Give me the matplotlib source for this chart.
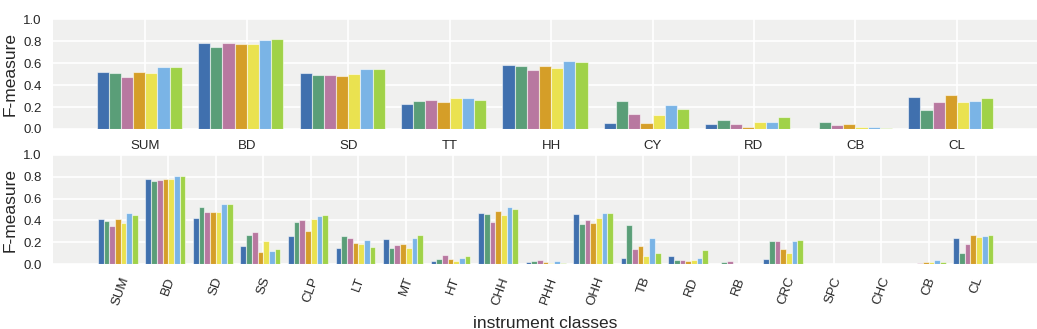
import matplotlib

matplotlib.use("Agg")

import matplotlib.pyplot as plt  # noqa: E402
import numpy as np  # noqa: E402

# ---------------------------------------------------------------------------
# Data
# ---------------------------------------------------------------------------

top_classes = ["SUM", "BD", "SD", "TT", "HH", "CY", "RD", "CB", "CL"]
bottom_classes = ["SUM", "BD", "SD", "SS", "CLP", "LT", "MT", "HT", "CHH", "PHH",
                  "OHH", "TB", "RD", "RB", "CRC", "SPC", "CHC", "CB", "CL"]

# one row per system, one value per class
top_scores = [
    [0.517, 0.787, 0.508, 0.231, 0.584, 0.055, 0.043, 0.003, 0.289],
    [0.510, 0.748, 0.492, 0.255, 0.571, 0.255, 0.082, 0.064, 0.176],
    [0.471, 0.784, 0.489, 0.264, 0.538, 0.137, 0.046, 0.036, 0.246],
    [0.520, 0.775, 0.486, 0.246, 0.578, 0.055, 0.018, 0.046, 0.313],
    [0.510, 0.775, 0.500, 0.286, 0.556, 0.125, 0.067, 0.018, 0.243],
    [0.562, 0.809, 0.547, 0.280, 0.620, 0.216, 0.067, 0.021, 0.255],
    [0.562, 0.818, 0.547, 0.261, 0.608, 0.179, 0.106, 0.010, 0.283],
]

bottom_scores = [
    [0.413, 0.781, 0.419, 0.164, 0.255, 0.152, 0.231, 0.030, 0.471, 0.018,
     0.462, 0.061, 0.073, 0.000, 0.049, 0.000, 0.000, 0.002, 0.240],
    [0.395, 0.760, 0.523, 0.267, 0.389, 0.256, 0.146, 0.052, 0.462, 0.027,
     0.368, 0.356, 0.043, 0.024, 0.216, 0.000, 0.000, 0.003, 0.106],
    [0.353, 0.769, 0.477, 0.295, 0.407, 0.237, 0.173, 0.085, 0.389, 0.043,
     0.401, 0.143, 0.043, 0.030, 0.216, 0.000, 0.003, 0.012, 0.182],
    [0.410, 0.781, 0.480, 0.112, 0.304, 0.195, 0.185, 0.052, 0.486, 0.021,
     0.374, 0.167, 0.033, 0.000, 0.143, 0.000, 0.000, 0.021, 0.270],
    [0.377, 0.781, 0.480, 0.216, 0.413, 0.188, 0.149, 0.030, 0.450, 0.009,
     0.422, 0.073, 0.040, 0.003, 0.103, 0.000, 0.003, 0.024, 0.249],
    [0.471, 0.808, 0.553, 0.122, 0.441, 0.222, 0.243, 0.058, 0.523, 0.030,
     0.471, 0.240, 0.058, 0.000, 0.210, 0.000, 0.000, 0.040, 0.258],
    [0.450, 0.808, 0.550, 0.140, 0.447, 0.155, 0.267, 0.073, 0.505, 0.012,
     0.471, 0.103, 0.134, 0.000, 0.222, 0.000, 0.000, 0.021, 0.264],
]

y_ticks = [0.0, 0.2, 0.4, 0.6, 0.8, 1.0]

# ---------------------------------------------------------------------------
# Style
# ---------------------------------------------------------------------------

_BG_COLOR = "#f0f0ef"
_TEXT_COLOR = "#262626"
_COLORS = ["#4070ae", "#5a9e78", "#b878a0", "#d59e28",
           "#eae250", "#7ab4e6", "#a0d248"]
_SLOT = 0.12  # width of one bar; 8 slots per group, last one left empty

plt.rcParams["font.family"] = ["Liberation Sans", "DejaVu Sans"]


def _style_axes(ax, n_classes, xlim):
    ax.set_facecolor(_BG_COLOR)
    for spine in ax.spines.values():
        spine.set_visible(False)
    ax.set_axisbelow(True)
    ax.grid(True, color="white", linewidth=1.2)
    ax.set_ylim(0, 1)
    ax.set_yticks(y_ticks)
    ax.set_yticklabels([f"{v:.1f}" for v in y_ticks])
    ax.set_xticks(np.arange(n_classes))
    ax.set_xlim(*xlim)
    ax.tick_params(length=0, pad=8, labelsize=9.5, colors=_TEXT_COLOR)
    ax.set_ylabel("F-measure", fontsize=12.5, color=_TEXT_COLOR, labelpad=4)


def _draw_bars(ax, scores):
    x = np.arange(len(scores[0]))
    for k, (vals, color) in enumerate(zip(scores, _COLORS)):
        ax.bar(x + (k - 3.5) * _SLOT, vals, width=_SLOT, color=color,
               edgecolor=(1, 1, 1, 0.55), linewidth=0.8)


fig = plt.figure(figsize=(10.37, 3.29), dpi=100)
ax_top = fig.add_axes([0.0511, 0.608, 0.9489, 0.3332])
ax_bot = fig.add_axes([0.0511, 0.1966, 0.9489, 0.3332])

_style_axes(ax_top, len(top_classes), (-0.91, 8.79))
_draw_bars(ax_top, top_scores)
ax_top.set_xticklabels(top_classes)

_style_axes(ax_bot, len(bottom_classes), (-1.425, 19.28))
_draw_bars(ax_bot, bottom_scores)
ax_bot.set_xticklabels(bottom_classes, rotation=70)
ax_bot.set_xlabel("instrument classes", fontsize=12.5, color=_TEXT_COLOR,
                  labelpad=6)

fig.savefig("out.png", dpi=100)
plt.close(fig)
